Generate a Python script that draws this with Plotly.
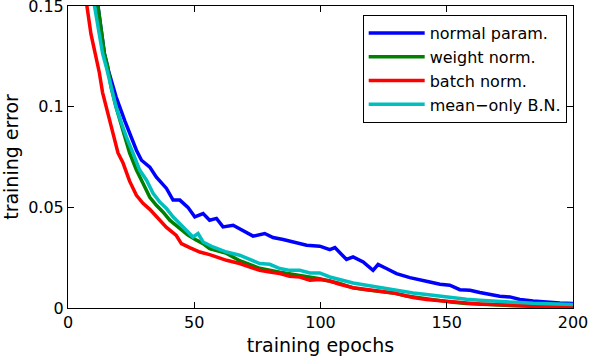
import plotly.graph_objects as go

# values (training error vs epoch)
normal_epochs = [11.0, 11.8, 13.1, 14.4, 16.0, 19.0, 22.5, 24.4, 27.1, 29.1, 32.4, 35.0, 39.0, 41.6,
                 44.3, 47.5, 50.2, 53.5, 56.1, 58.8, 61.4, 65.4, 69.3, 73.3, 77.9, 81.2, 85.2, 89.1,
                 94.5, 99.7, 103.7, 105.7, 107.6, 110.3, 112.9, 116.9, 120.8, 122.8, 126.1, 130.1,
                 135.4, 139.3, 143.3, 147.3, 151.2, 155.2, 159.2, 163.1, 167.1, 171.0, 175.0, 179.0,
                 184.2, 189.5, 194.8, 200.0]
normal_err = [0.158, 0.150, 0.136, 0.1265, 0.118, 0.105, 0.093, 0.087, 0.0784, 0.0734, 0.070, 0.065,
              0.0594, 0.0536, 0.0536, 0.050, 0.0453, 0.0469, 0.0436, 0.0445, 0.0403, 0.0411, 0.0386,
              0.0357, 0.037, 0.035, 0.034, 0.0328, 0.0312, 0.0307, 0.029, 0.030, 0.0278, 0.0241,
              0.0254, 0.0229, 0.0187, 0.0216, 0.0196, 0.0171, 0.0151, 0.0138, 0.0129, 0.0118, 0.0113,
              0.0091, 0.0088, 0.0077, 0.0067, 0.0058, 0.0055, 0.0042, 0.0035, 0.0028, 0.0025, 0.0022]

weight_epochs = [11.0, 11.8, 13.1, 14.4, 15.7, 17.0, 19.0, 20.5, 22.5, 24.4, 27.1, 29.7, 32.4, 35.0,
                 37.6, 40.3, 44.3, 47.5, 50.9, 53.5, 56.1, 62.8, 68.0, 75.9, 83.9, 91.8, 99.7, 107.6,
                 112.9, 118.2, 123.5, 128.8, 134.1, 142.0, 147.3, 152.5, 157.8, 163.1, 168.4, 173.7,
                 179.0, 184.2, 189.5, 194.8, 200.0]
weight_err = [0.158, 0.150, 0.136, 0.1265, 0.120, 0.110, 0.100, 0.093, 0.085, 0.077, 0.0685, 0.062,
              0.055, 0.051, 0.0477, 0.0436, 0.0395, 0.0362, 0.0337, 0.032, 0.0295, 0.0271, 0.0235,
              0.0197, 0.0178, 0.0160, 0.0145, 0.0122, 0.0100, 0.0090, 0.0083, 0.0075, 0.0060, 0.0045,
              0.0035, 0.0028, 0.0022, 0.0018, 0.0014, 0.0012, 0.0010, 0.0008, 0.0006, 0.0005, 0.0005]

batch_epochs = [6.0, 7.5, 9.1, 10.5, 12.4, 13.7, 15.7, 17.7, 19.8, 21.8, 24.4, 27.1, 29.7, 32.4, 35.7,
                39.0, 42.9, 44.9, 48.2, 52.2, 56.1, 59.5, 62.8, 68.0, 72.0, 75.9, 79.9, 83.9, 87.8,
                91.8, 95.8, 99.7, 103.7, 107.6, 112.9, 118.2, 123.5, 128.8, 134.1, 136.7, 142.0,
                147.3, 152.5, 157.8, 163.1, 168.4, 173.7, 179.0, 184.2, 189.5, 194.8, 200.0]
batch_err = [0.163, 0.150, 0.136, 0.128, 0.117, 0.107, 0.097, 0.087, 0.077, 0.072, 0.063, 0.056,
             0.052, 0.049, 0.0445, 0.040, 0.036, 0.032, 0.030, 0.0278, 0.0265, 0.025, 0.0237, 0.0221,
             0.0204, 0.0187, 0.0179, 0.0171, 0.0158, 0.0154, 0.0138, 0.0141, 0.0134, 0.0118, 0.0101,
             0.0091, 0.0083, 0.0075, 0.0060, 0.0052, 0.0042, 0.0035, 0.0030, 0.0025, 0.0020, 0.0017,
             0.0015, 0.0013, 0.0012, 0.0010, 0.0010, 0.0010]

meanonly_epochs = [9.8, 10.5, 12.4, 13.7, 15.1, 17.0, 19.0, 21.4, 23.1, 25.8, 28.4, 31.1, 33.7, 36.3,
                   39.0, 41.6, 44.3, 46.9, 49.5, 51.5, 53.5, 57.4, 62.8, 68.0, 72.0, 75.9, 79.9, 83.9,
                   87.8, 91.8, 95.8, 99.7, 103.7, 107.6, 112.9, 118.2, 123.5, 128.8, 134.1, 136.7,
                   142.0, 147.3, 152.5, 157.8, 163.1, 168.4, 173.7, 179.0, 184.2, 189.5, 194.8, 200.0]
meanonly_err = [0.158, 0.150, 0.136, 0.1265, 0.120, 0.110, 0.100, 0.091, 0.085, 0.0768, 0.0685,
                0.0635, 0.057, 0.0527, 0.0494, 0.0453, 0.042, 0.0386, 0.0353, 0.037, 0.0328, 0.0303,
                0.0278, 0.0262, 0.0241, 0.0221, 0.0217, 0.0196, 0.0187, 0.0187, 0.0174, 0.0174,
                0.0154, 0.0141, 0.0124, 0.0113, 0.0101, 0.0091, 0.0080, 0.0075, 0.0067, 0.0058,
                0.0052, 0.0043, 0.0038, 0.0033, 0.0030, 0.0027, 0.0023, 0.0022, 0.0020, 0.0018]

names = ['normal param.', 'weight norm.', 'batch norm.', 'mean\u2212only B.N.']
colors = ['#0000ff', '#008000', '#ff0000', '#00bfbf']
xs = [normal_epochs, weight_epochs, batch_epochs, meanonly_epochs]
ys = [normal_err, weight_err, batch_err, meanonly_err]

fig = go.Figure()
for x, y, name, c in zip(xs, ys, names, colors):
    fig.add_trace(go.Scatter(x=x, y=y, mode='lines', name=name,
                             line=dict(color=c, width=3.5)))

font = dict(family='DejaVu Sans', size=16, color='black')
fig.update_layout(
    width=590, height=356,
    margin=dict(l=68, r=17, t=6, b=48, autoexpand=False),
    paper_bgcolor='white', plot_bgcolor='white',
    font=font,
    legend=dict(x=0.9875, y=0.97, xanchor='right', yanchor='top',
                bgcolor='white', bordercolor='black', borderwidth=1, itemwidth=56,
                font=dict(family='DejaVu Sans', size=16), tracegroupgap=0),
)
fig.update_xaxes(range=[0, 200], tickvals=[0, 50, 100, 150, 200], showgrid=False, zeroline=False,
                 showline=True, linecolor='black', linewidth=1, mirror='ticks',
                 ticks='inside', ticklen=6, tickcolor='black', automargin=False,
                 title=dict(text='training epochs'))
fig.update_yaxes(range=[0, 0.15001], tickvals=[0, 0.05, 0.1, 0.15], showgrid=False, zeroline=False,
                 showline=True, linecolor='black', linewidth=1, mirror='ticks',
                 ticks='inside', ticklen=6, tickcolor='black', automargin=False,
                 ticklabeloverflow='allow',
                 title=dict(text='training error'))

# the page body has a default 8px margin; drop it so the figure sits at the window corner
fig.write_html("out.html", config={'displayModeBar': False},
               post_script="document.body.style.margin='0';")
